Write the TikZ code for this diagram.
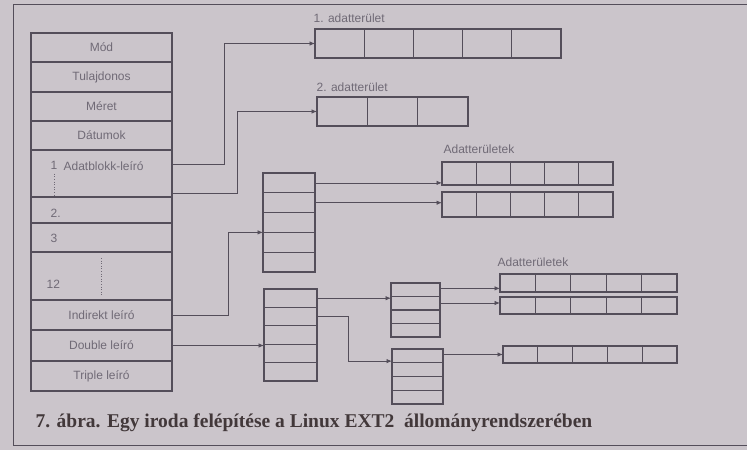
\documentclass[tikz,border=0pt]{standalone}
\usepackage{fontspec}
\setmainfont{Liberation Serif}
\setsansfont{Liberation Sans}
\usepackage{tikz}
\usetikzlibrary{arrows.meta,positioning,calc}
\definecolor{paper}{RGB}{203,197,203}
\definecolor{ink}{RGB}{84,78,90}
\definecolor{greyink}{RGB}{112,106,118}
\definecolor{capink}{RGB}{66,56,58}
\tikzset{
  every picture/.style={line width=1.2pt},
  sinode/.style={draw=ink, inner sep=0pt, outer sep=0pt, minimum width=141pt,
                 font=\sffamily\fontsize{12}{12}\selectfont, text=greyink},
  sblock/.style={draw=ink, inner sep=0pt, outer sep=0pt, anchor=north west},
  sptr/.style={draw=ink, line width=0.8pt, -{Latex[length=5.5pt,width=4.5pt]}},
  slabel/.style={font=\sffamily\fontsize{12}{12}\selectfont, text=greyink,
                 anchor=west, inner sep=0pt},
  sdots/.style={draw=greyink, line width=0.6pt, dotted},
  scaption/.style={font=\bfseries\fontsize{19.5}{19.5}\selectfont, text=capink,
                   anchor=west, inner sep=0pt},
}

\begin{document}
\begin{tikzpicture}[x=1pt,y=-1pt]
  \fill[paper] (0,0) rectangle (747,450);
  \useasboundingbox (0,0) rectangle (747,450);
  % page frame
  \draw[ink, line width=0.8pt] (747,4) -- (13,4) -- (13,445) -- (747,445);

  % the inode
  \foreach \nm/\ya/\yb/\txt in {mod/33/62/Mód, tul/62/92/Tulajdonos,
      meret/92/121/Méret, datum/121/150/Dátumok, blka/150/197/{},
      blkb/197/223/{}, blkc/223/252/{}, blkl/252/300/{},
      ind/300/330/Indirekt leíró, dbl/330/361/Double leíró,
      trp/361/391/Triple leíró}
    \node[sinode, minimum height={(\yb-\ya)*1pt}] (\nm) at (101.5,{(\ya+\yb)/2}) {\txt};
  \node[slabel] (n1)  at (50,165) {1};
  \node[slabel] (t1)  at (63,166) {Adatblokk-leíró};
  \node[slabel] (n2)  at (50,213) {2.};
  \node[slabel] (n3)  at (50,238) {3};
  \node[slabel] (n12) at (46,284) {12};
  \draw[sdots] ($(n1.south)+(0,4)$) -- (n1.south |- blka.south);
  \draw[sdots] ($(blkl.north)+(0,6)$) -- ($(blkl.south)+(0,-4)$);

  % data areas
  \foreach \nm/\xa/\ya/\xb/\yb/\n in {d1/315/29/561/58/5, d2/317/97/468/126/3,
      da/442/162/613/185/5, db/442/192/613/217/5, dc/500/274/677/292/5,
      dd/500/297/677/314/5, de/503/346/677/363/5}{
    \node[sblock, minimum width={(\xb-\xa)*1pt}, minimum height={(\yb-\ya)*1pt}]
      (\nm) at (\xa,\ya) {};
    \pgfmathtruncatemacro\m{\n-1}
    \foreach \i in {1,...,\m}
      \draw[ink] ($(\nm.north west)!\i/\n!(\nm.north east)$) -- ($(\nm.south west)!\i/\n!(\nm.south east)$);
  }

  % indirect blocks
  \foreach \nm/\xa/\ya/\xb/\yb/\n in {sA/263/173/315/272/5, sB/264/289/317/381/5,
      sC/391/283/440/337/4, sD/392/349/443/404/4}{
    \node[sblock, minimum width={(\xb-\xa)*1pt}, minimum height={(\yb-\ya)*1pt}]
      (\nm) at (\xa,\ya) {};
    \pgfmathtruncatemacro\m{\n-1}
    \foreach \i in {1,...,\m}
      \draw[ink] ($(\nm.north west)!\i/\n!(\nm.south west)$) -- ($(\nm.north east)!\i/\n!(\nm.south east)$);
  }

  \node[slabel] (l1) at (313,18)  {1. adatterület};
  \node[slabel] (l2) at (316,87)  {2. adatterület};
  \node[slabel] (l3) at (443,149) {Adatterületek};
  \node[slabel] (l4) at (497,262) {Adatterületek};

  % pointers
  \coordinate (p1) at ($(blka.north east)!0.3!(blka.south east)$);
  \coordinate (p2) at ($(blka.north east)!0.92!(blka.south east)$);
  \coordinate (aIn) at ($(sA.north west)!0.6!(sA.south west)$);
  \coordinate (a1) at ($(sA.north east)!0.1!(sA.south east)$);
  \coordinate (a2) at ($(sA.north east)!0.3!(sA.south east)$);
  \coordinate (b1) at ($(sB.north east)!0.1!(sB.south east)$);
  \coordinate (b2) at ($(sB.north east)!0.3!(sB.south east)$);
  \coordinate (dIn) at ($(sD.north west)!0.22!(sD.south west)$);
  \coordinate (c1) at ($(sC.north east)!0.1!(sC.south east)$);
  \coordinate (c2) at ($(sC.north east)!0.37!(sC.south east)$);
  \coordinate (e1) at ($(sD.north east)!0.1!(sD.south east)$);

  \draw[sptr] (p1) -- ++(52,0) |- (d1.west);
  \draw[sptr] (p2) -- ++(65,0) |- (d2.west);
  \draw[sptr] (ind.east) -- ++(56,0) |- (aIn);
  \draw[sptr] (dbl.east) -- (dbl.east -| sB.west);
  \draw[sptr] (a1) -- (a1 -| da.west);
  \draw[sptr] (a2) -- (a2 -| db.west);
  \draw[sptr] (b1) -- (b1 -| sC.west);
  \draw[sptr] (b2) -- ++(31,0) |- (dIn);
  \draw[sptr] (c1) -- (c1 -| dc.west);
  \draw[sptr] (c2) -- (c2 -| dd.west);
  \draw[sptr] (e1) -- (e1 -| de.west);

  \node[scaption] (cap) at (35,423)
    {7. ábra. Egy iroda felépítése a Linux EXT2~ állományrendszerében};
\end{tikzpicture}
\end{document}
